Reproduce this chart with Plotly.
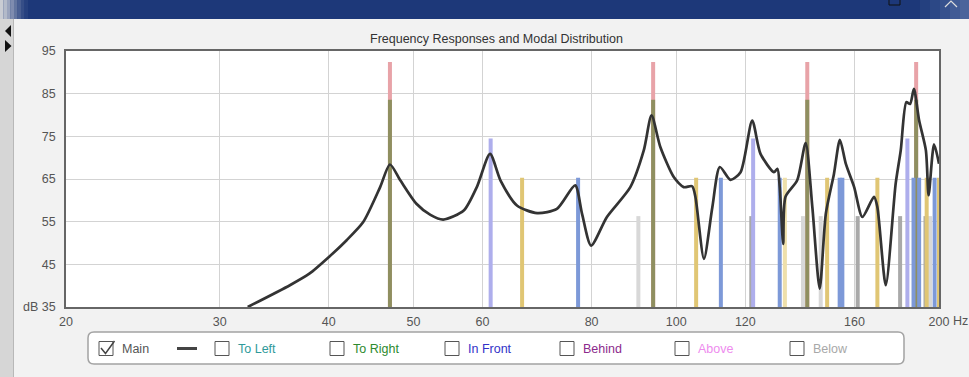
import plotly.graph_objects as go

# ---------------- data ----------------
resp_freq = [32.3, 36.1, 38.0, 40.1, 41.9, 43.8, 45.8, 47.0, 48.3, 50.4, 52.3, 54.1, 57.1, 59.1, 61.2, 62.9,
             65.7, 69.3, 73.0, 76.6, 78.0, 79.9, 83.3, 88.6, 91.8, 93.7, 95.9, 99.4, 102.0,
             104.3, 105.2, 107.6, 110.0, 112.2, 115.4, 118.5, 122.2, 124.9, 129.4, 130.6,
             131.4, 132.6, 133.4, 137.6, 140.7, 143.2, 146.0, 148.4, 151.6, 154.0, 156.4,
             159.9, 163.4, 168.5, 170.0, 173.8, 178.4, 180.8, 183.5, 185.3, 187.2, 189.8,
             193.2, 194.6, 197.4, 200.0]
resp_db = [35.0, 40.1, 42.8, 46.9, 50.6, 54.9, 63.1, 68.4, 64.7, 59.2, 56.6, 55.5, 57.6, 63.1, 70.9, 64.7,
           58.8, 57.0, 58.0, 63.5, 56.9, 49.4, 56.1, 63.1, 71.7, 79.9, 72.5, 65.4, 63.1,
           63.3, 60.8, 46.3, 58.4, 67.8, 64.8, 66.6, 78.7, 70.9, 66.6, 67.4,
           63.1, 49.8, 60.8, 64.7, 73.4, 58.4, 39.3, 56.9, 66.2, 74.2, 68.6,
           63.1, 56.1, 60.8, 58.4, 40.1, 63.9, 71.7, 83.0, 82.6, 86.1, 78.7,
           71.7, 61.2, 73.1, 68.6]

red_freq = [47.0, 94.1, 141.3, 188.3]
red_level = 92.4
olive_freq = [47.0, 94.1, 141.3, 188.3]
olive_level = 83.6
lavender_freq = [61.3, 122.5, 184.0]
lavender_level = 74.5
yellow_freq = [66.6, 105.4, 148.9, 170.0, 193.6, 200.0]
yellow_level = 65.3
paleyellow_freq = [133.2]
paleyellow_level = 65.3
steel_freq = [77.2, 112.5, 131.4, 153.9, 155.0, 187.0, 189.8, 197.7]
steel_level = 65.3
lightgrey_freq = [90.5, 139.7, 146.4, 195.3]
lightgrey_level = 56.3
midgrey_freq = [121.9, 161.4, 180.5, 193.0]
midgrey_level = 56.3

x_ticks = [20, 30, 40, 50, 60, 80, 100, 120, 160, 200]
y_ticks = [35, 45, 55, 65, 75, 85, 95]
y_ticktext = ["dB 35", "45", "55", "65", "75", "85", "95"]

legend_items = ["To Left", "To Right", "In Front", "Behind", "Above", "Below"]
legend_colors = ["#2f9a9a", "#2e8a2e", "#3232c8", "#8c2a8c", "#ee8cee", "#a8a8a8"]

# ---------------- geometry helpers ----------------
W, H = 969, 377
L, R, T, B = 66, 30, 51, 70
PW, PH = W - L - R, H - T - B
Y0 = 35


def px(x):
    return (x - L) / PW


def py(y):
    return 1 - (y - T) / PH


fig = go.Figure()


def add_bars(freqs, level, color, width=4):
    xs, ys = [], []
    for f in freqs:
        xs += [f, f, None]
        ys += [Y0, level, None]
    fig.add_trace(go.Scatter(x=xs, y=ys, mode="lines", line=dict(color=color, width=width),
                             hoverinfo="skip", showlegend=False))


add_bars(red_freq, red_level, "#e8a3a8")
add_bars(olive_freq, olive_level, "#8f8f60")
add_bars(lightgrey_freq, lightgrey_level, "#d8d8d8")
add_bars(midgrey_freq, midgrey_level, "#a9a9a9")
add_bars(lavender_freq, lavender_level, "#aeaeec")
add_bars(yellow_freq, yellow_level, "#e0c674")
add_bars(paleyellow_freq, paleyellow_level, "#efe0ab")
add_bars(steel_freq, steel_level, "#7d99d8")

fig.add_trace(go.Scatter(x=resp_freq, y=resp_db, mode="lines",
                         line=dict(color="#333333", width=2.7, shape="spline", smoothing=0.7),
                         hoverinfo="skip", showlegend=False))

shapes = []
ann = []

# window header
shapes.append(dict(type="rect", xref="paper", yref="paper", x0=px(0), x1=px(W), y0=py(19), y1=py(0),
                   fillcolor="#1d3879", line=dict(width=0), layer="below"))
for i, c in enumerate(["#c9ccd3", "#b3bac9", "#9aa4bd", "#7f8caf", "#63759f", "#4a5f92", "#364e87", "#27417f"]):
    shapes.append(dict(type="rect", xref="paper", yref="paper", x0=px(i * 3.5), x1=px(i * 3.5 + 3.6),
                       y0=py(19), y1=py(0), fillcolor=c, line=dict(width=0), layer="below"))
for i, c in enumerate(["#24407f", "#2c4886", "#36518d", "#415b95", "#4b649b"]):
    shapes.append(dict(type="rect", xref="paper", yref="paper", x0=px(920 + i * 10), x1=px(930.5 + i * 10),
                       y0=py(19), y1=py(0), fillcolor=c, line=dict(width=0), layer="below"))
# window controls
shapes.append(dict(type="rect", xref="paper", yref="paper", x0=px(889), x1=px(900), y0=py(5), y1=py(-3),
                   line=dict(color="#111111", width=1), fillcolor="rgba(0,0,0,0)"))
shapes.append(dict(type="path", xref="paper", yref="paper",
                   path=f"M {px(945)},{py(7)} L {px(951)},{py(1)} L {px(957)},{py(7)}",
                   line=dict(color="#dddddd", width=1.2)))
# left strip
shapes.append(dict(type="rect", xref="paper", yref="paper", x0=px(0), x1=px(13), y0=py(H), y1=py(19),
                   fillcolor="#d6d6d6", line=dict(width=0), layer="below"))
shapes.append(dict(type="line", xref="paper", yref="paper", x0=px(13.5), x1=px(13.5), y0=py(H), y1=py(19),
                   line=dict(color="#b8b8b8", width=1)))
shapes.append(dict(type="path", xref="paper", yref="paper",
                   path=f"M {px(11)},{py(25)} L {px(5)},{py(31)} L {px(11)},{py(37)} Z",
                   fillcolor="#111111", line=dict(width=0)))
shapes.append(dict(type="path", xref="paper", yref="paper",
                   path=f"M {px(5)},{py(40)} L {px(11.5)},{py(46)} L {px(5)},{py(52)} Z",
                   fillcolor="#111111", line=dict(width=0)))

# legend box (rounded)
x0, x1, y0, y1, r = 88, 904, 332, 364, 6
path = (f"M {px(x0 + r)},{py(y0)} L {px(x1 - r)},{py(y0)} Q {px(x1)},{py(y0)} {px(x1)},{py(y0 + r)} "
        f"L {px(x1)},{py(y1 - r)} Q {px(x1)},{py(y1)} {px(x1 - r)},{py(y1)} "
        f"L {px(x0 + r)},{py(y1)} Q {px(x0)},{py(y1)} {px(x0)},{py(y1 - r)} "
        f"L {px(x0)},{py(y0 + r)} Q {px(x0)},{py(y0)} {px(x0 + r)},{py(y0)} Z")
shapes.append(dict(type="path", xref="paper", yref="paper", path=path, fillcolor="#ffffff",
                   line=dict(color="#a3a3a3", width=1.5)))

LEG_Y = 348.5
box_lefts = [99, 215, 330, 445, 560, 675, 790]
for bx in box_lefts:
    shapes.append(dict(type="rect", xref="paper", yref="paper", x0=px(bx), x1=px(bx + 14),
                       y0=py(LEG_Y + 7), y1=py(LEG_Y - 7), fillcolor="#ffffff",
                       line=dict(color="#555555", width=1)))
shapes.append(dict(type="path", xref="paper", yref="paper",
                   path=f"M {px(101)},{py(348)} L {px(105.5)},{py(353.5)} L {px(114.5)},{py(341)}",
                   line=dict(color="#444444", width=1.5)))
shapes.append(dict(type="line", xref="paper", yref="paper", x0=px(177), x1=px(197), y0=py(LEG_Y),
                   y1=py(LEG_Y), line=dict(color="#444444", width=3)))

font_fam = "Liberation Sans, Arial, sans-serif"
ann.append(dict(text="Main", x=px(120), y=py(LEG_Y), xref="paper", yref="paper", xanchor="left",
                yanchor="middle", showarrow=False, font=dict(family=font_fam, size=12.5, color="#555555")))
for name, col, bx in zip(legend_items, legend_colors, box_lefts[1:]):
    ann.append(dict(text=name, x=px(bx + 21), y=py(LEG_Y), xref="paper", yref="paper", xanchor="left",
                    yanchor="middle", showarrow=False, font=dict(family=font_fam, size=12.5, color=col)))

ann.append(dict(text="Frequency Responses and Modal Distribution", x=px(496), y=py(38.5), xref="paper",
                yref="paper", xanchor="center", yanchor="middle", showarrow=False,
                font=dict(family=font_fam, size=12.5, color="#333333")))
ann.append(dict(text="Hz", x=px(951), y=py(320.5), xref="paper", yref="paper", xanchor="left",
                yanchor="middle", showarrow=False, font=dict(family=font_fam, size=12.5, color="#555555")))

fig.update_layout(
    width=W, height=H,
    margin=dict(l=L, r=R, t=T, b=B, pad=0),
    paper_bgcolor="#f2f2f2",
    plot_bgcolor="#ffffff",
    showlegend=False,
    shapes=shapes,
    annotations=ann,
    font=dict(family=font_fam, size=12.5, color="#555555"),
)
fig.update_xaxes(type="log", range=[1.30103, 2.30103], tickvals=x_ticks,
                 ticktext=[str(v) for v in x_ticks],
                 showgrid=True, gridcolor="#d3d3d3", gridwidth=1,
                 showline=True, linecolor="#666666", linewidth=1.5, mirror=True,
                 ticks="outside", ticklen=2, tickcolor="rgba(0,0,0,0)", zeroline=False,
                 tickfont=dict(family=font_fam, size=12.5, color="#555555"))
fig.update_yaxes(range=[35, 95], tickvals=y_ticks, ticktext=y_ticktext,
                 showgrid=True, gridcolor="#d3d3d3", gridwidth=1,
                 showline=True, linecolor="#666666", linewidth=1.5, mirror=True,
                 ticks="outside", ticklen=6, tickcolor="rgba(0,0,0,0)", zeroline=False,
                 tickfont=dict(family=font_fam, size=12.5, color="#555555"))

fig.write_html("out.html", config={"displayModeBar": False},
               post_script="document.body.style.margin='0';document.body.style.overflow='hidden';")
